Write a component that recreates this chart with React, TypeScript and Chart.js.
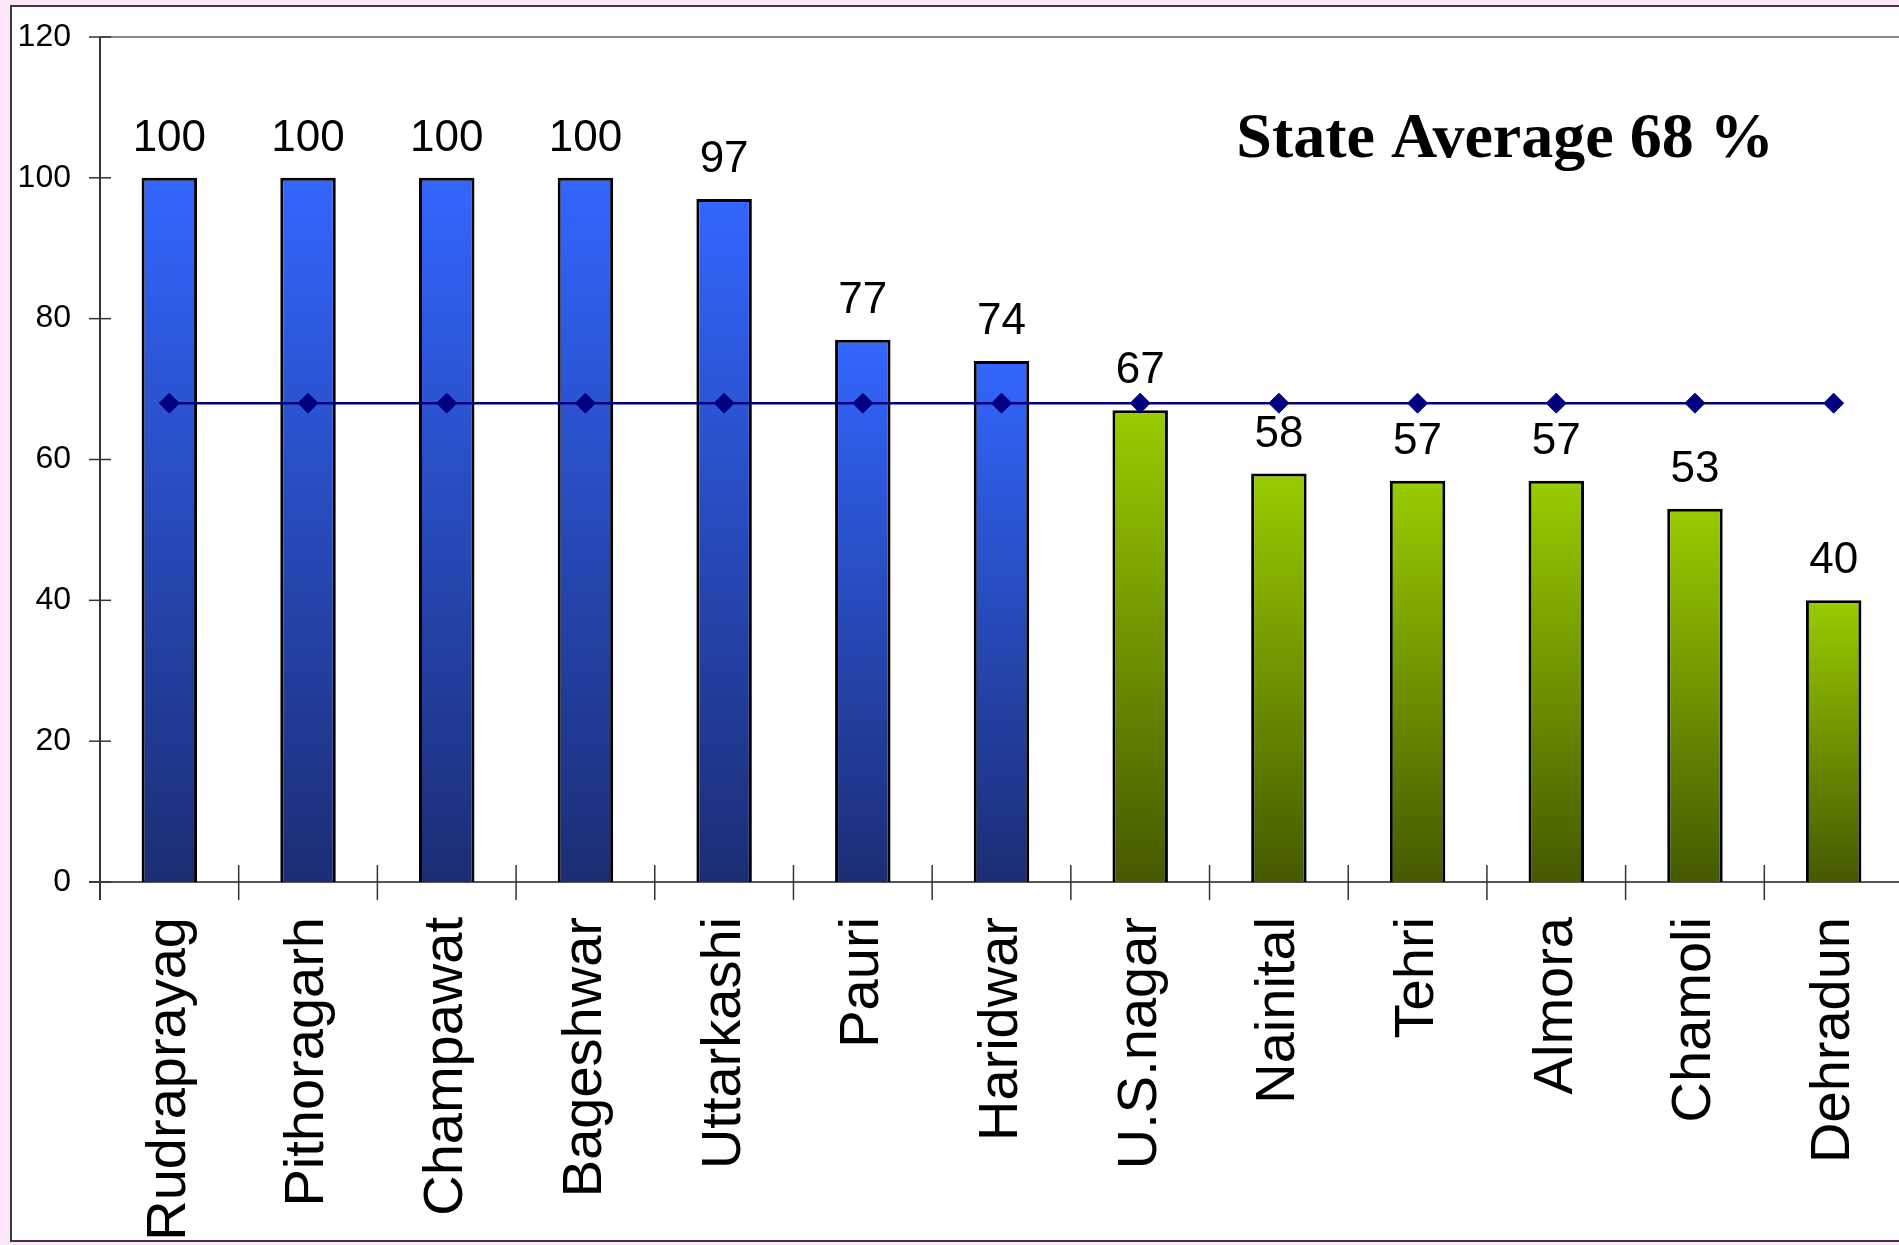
import React, { useEffect, useRef } from "react";
import { Chart, registerables } from "chart.js";

Chart.register(...registerables);

// ---------- data ----------
const categories = [
  "Rudraprayag",
  "Pithoragarh",
  "Champawat",
  "Bageshwar",
  "Uttarkashi",
  "Pauri",
  "Haridwar",
  "U.S.nagar",
  "Nainital",
  "Tehri",
  "Almora",
  "Chamoli",
  "Dehradun",
];
const values = [100, 100, 100, 100, 97, 77, 74, 67, 58, 57, 57, 53, 40];
const stateAverage = [68, 68, 68, 68, 68, 68, 68, 68, 68, 68, 68, 68, 68];
const averageValue = 68;
const yTicks = [0, 20, 40, 60, 80, 100, 120];
const annotationText = "State Average 68 %";

// ---------- styles ----------
const aboveColors = ["#3366FF", "#1B2D74"];
const belowColors = ["#99CC00", "#455900"];
const SANS = "'Liberation Sans', Arial, Helvetica, sans-serif";
const SERIF = "'Liberation Serif', 'Times New Roman', serif";

const decorPlugin = {
  id: "decor",
  beforeDatasetsDraw(chart: any) {
    const { ctx, chartArea: a, scales } = chart;
    const x = scales.x;
    const y = scales.y;
    const line = (x1: number, y1: number, x2: number, y2: number) => {
      ctx.beginPath();
      ctx.moveTo(x1, y1);
      ctx.lineTo(x2, y2);
      ctx.stroke();
    };
    ctx.save();
    const yTop = y.getPixelForValue(yTicks[yTicks.length - 1]);
    // top plot border (gray)
    ctx.strokeStyle = "#888888";
    ctx.lineWidth = 2;
    line(a.left, yTop, a.right + 4, yTop);
    // axes
    ctx.strokeStyle = "#333333";
    ctx.lineWidth = 2;
    line(a.left, yTop, a.left, a.bottom + 18);
    ctx.strokeStyle = "#555555";
    line(a.left - 11, a.bottom, a.right + 4, a.bottom);
    // y tick marks (crossing)
    ctx.strokeStyle = "#333333";
    ctx.lineWidth = 1.5;
    yTicks.forEach((v) => {
      const py = y.getPixelForValue(v);
      line(a.left - 11, py, a.left + 11, py);
    });
    // category boundary tick marks (crossing)
    for (let i = 1; i < categories.length; i++) {
      const px = (x.getPixelForValue(i - 1) + x.getPixelForValue(i)) / 2;
      line(px, a.bottom - 17, px, a.bottom + 18);
    }
    ctx.restore();
  },
  afterDatasetsDraw(chart: any) {
    const { ctx } = chart;
    ctx.save();
    ctx.fillStyle = "#000000";
    ctx.font = `44px ${SANS}`;
    ctx.textAlign = "center";
    ctx.textBaseline = "alphabetic";
    const meta = chart.getDatasetMeta(0);
    meta.data.forEach((bar: any, i: number) => {
      ctx.fillText(String(values[i]), bar.x, bar.y - 27);
    });
    ctx.font = `bold 64px ${SERIF}`;
    ctx.fillText(annotationText, 1505, 157);
    ctx.restore();
  },
};

export default function App() {
  const canvasRef = useRef<HTMLCanvasElement | null>(null);

  useEffect(() => {
    const canvas = canvasRef.current;
    if (!canvas) return;
    const chart = new Chart(canvas, {
      type: "bar",
      data: {
        labels: categories,
        datasets: [
          {
            type: "bar",
            label: "District",
            data: values,
            order: 2,
            backgroundColor: (c: any) => {
              const ch = c.chart;
              const cols = values[c.dataIndex] >= averageValue ? aboveColors : belowColors;
              if (!ch.chartArea || c.type !== "data") return cols[0];
              const ys = ch.scales.y;
              const top = ys.getPixelForValue(values[c.dataIndex]);
              const bottom = ys.getPixelForValue(0);
              const g = ch.ctx.createLinearGradient(0, top, 0, bottom);
              g.addColorStop(0, cols[0]);
              g.addColorStop(1, cols[1]);
              return g;
            },
            borderColor: "#000000",
            borderWidth: 3,
            borderSkipped: "bottom",
            categoryPercentage: 1,
            barPercentage: 0.4,
          } as any,
          {
            type: "line",
            label: "State Average",
            data: stateAverage,
            order: 1,
            borderColor: "#000080",
            borderWidth: 2.5,
            pointStyle: "rectRot",
            pointRadius: 10,
            pointBackgroundColor: "#000080",
            pointBorderColor: "#000080",
            pointBorderWidth: 1,
            fill: false,
            tension: 0,
          } as any,
        ],
      },
      options: {
        responsive: false,
        animation: false,
        events: [],
        layout: { autoPadding: false, padding: { top: 37, left: 0, right: 1, bottom: 0 } },
        plugins: {
          legend: { display: false },
          title: { display: false },
          tooltip: { enabled: false },
        },
        scales: {
          x: {
            type: "category",
            offset: true,
            grid: { display: false, drawTicks: false },
            border: { display: false },
            ticks: {
              autoSkip: false,
              minRotation: 90,
              maxRotation: 90,
              padding: 35,
              color: "#000000",
              font: { family: SANS, size: 56 },
            },
            afterFit: (s: any) => {
              s.height = 363;
              s.paddingLeft = 0;
              s.paddingRight = 0;
            },
          },
          y: {
            min: 0,
            max: 120,
            grid: { display: false, drawTicks: false },
            border: { display: false },
            ticks: {
              stepSize: 20,
              padding: 29,
              color: "#000000",
              font: { family: SANS, size: 32 },
            },
            afterFit: (s: any) => {
              s.width = 100;
              s.paddingTop = 0;
              s.paddingBottom = 0;
            },
          },
        },
      },
      plugins: [decorPlugin],
    } as any);
    return () => chart.destroy();
  }, []);

  return (
    <div
      style={{
        position: "fixed",
        left: 0,
        top: 0,
        width: 1899,
        height: 1245,
        background: "#FCE6FA",
        overflow: "hidden",
      }}
    >
      <div
        style={{
          position: "absolute",
          left: 10,
          top: 5,
          width: 1889,
          height: 1237,
          background: "#FFFFFF",
          borderTop: "2px solid #3a3a3a",
          borderLeft: "2px solid #3a3a3a",
          borderBottom: "2px solid #3a3a3a",
          boxSizing: "border-box",
        }}
      />
      <canvas
        ref={canvasRef}
        width={1904}
        height={1245}
        style={{ position: "absolute", left: 0, top: 0, width: 1904, height: 1245 }}
      />
    </div>
  );
}
